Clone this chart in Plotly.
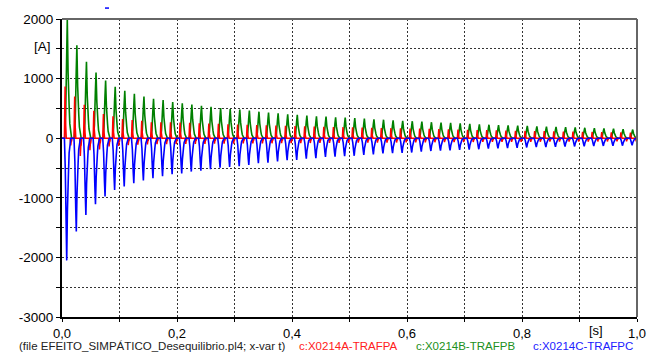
import plotly.graph_objects as go

# ---------------- data ----------------
FREQ = 60.0                 # Hz, one current pulse per cycle
T_FIRST_PEAK = 0.0092       # s, time of first phase-B peak

# peak value of each cycle's pulse [A]
green_peaks = [2000, 1560, 1283, 1100, 967, 861, 794, 744, 700, 661,
               639, 606, 585, 565, 545, 525, 506, 489, 482, 465,
               445, 430, 418, 400, 392, 378, 367, 362, 352, 345,
               338, 328, 318, 310, 300, 290, 285, 278, 268, 262,
               256, 248, 240, 232, 226, 220, 215, 211, 205, 200,
               195, 190, 185, 180, 175, 170, 165, 160, 152, 145]
blue_peaks = [-2050, -1567, -1289, -1106, -978, -867, -811, -756, -711, -672,
              -639, -606, -590, -560, -545, -520, -495, -483, -470, -450,
              -420, -410, -390, -370, -365, -345, -335, -315, -310, -300,
              -295, -280, -270, -255, -250, -245, -240, -225, -215, -210,
              -205, -195, -190, -185, -175, -170, -165, -160, -155, -150,
              -148, -145, -140, -138, -135, -132, -130, -128, -125, -120]
red_peaks = [867, 700, 561, 461, 406, 367, 322, 306, 294, 267,
             267, 267, 262, 258, 252, 246, 240, 235, 230, 225,
             220, 215, 212, 208, 205, 200, 196, 192, 188, 185,
             182, 178, 175, 172, 168, 165, 162, 160, 156, 152,
             150, 146, 142, 138, 135, 132, 128, 125, 122, 120,
             118, 115, 112, 110, 108, 105, 102, 100, 98, 95]
red_dips = [-120, -300, -200, -190, -140, -130, -115, -110, -105, -100,
            -100, -98, -96, -95, -94, -92, -90, -90, -88, -87,
            -86, -85, -84, -83, -82, -81, -80, -79, -78, -77,
            -76, -75, -74, -73, -72, -71, -70, -69, -68, -67,
            -66, -65, -64, -63, -62, -62, -61, -60, -60, -59,
            -58, -58, -57, -56, -56, -55, -55, -54, -54, -53]

# pulse outlines: (time offset from pulse peak [s], fraction of peak)
green_shape = [(-0.0045, 0), (-0.0028, 0.2), (-0.0012, 0.7), (0, 1), (0.0014, 0.55),
               (0.0024, 0.27), (0.0034, 0.24), (0.0044, 0.12), (0.0058, 0.03), (0.0075, 0)]
blue_shape = [(-0.004, 0), (-0.0025, 0.25), (-0.001, 0.75), (0, 1), (0.0012, 0.6),
              (0.0022, 0.3), (0.0032, 0.26), (0.0042, 0.12), (0.0056, 0.03), (0.0072, 0)]
red_pos_shape = [(-0.0012, 0), (-0.0004, 0.75), (0, 1), (0.0005, 0.4), (0.0012, 0.05), (0.002, 0)]
red_neg_shape = [(-0.001, 0), (0, 1), (0.0008, 0.45), (0.0014, 0.4), (0.0024, 0)]

GREEN_OFF, BLUE_OFF, RED_OFF, RED_DIP_OFF = 0.0, -0.001, -0.0038, 0.006

x_tickvals = [0, 0.1, 0.2, 0.3, 0.4, 0.5, 0.6, 0.7, 0.8, 0.9, 1.0]
x_ticktext = ["0,0", "", "0,2", "", "0,4", "", "0,6", "", "0,8", "", "1,0"]
y_tickvals = [-3000, -2500, -2000, -1500, -1000, -500, 0, 500, 1000, 1500, 2000]
y_ticktext = ["-3000", "", "-2000", "", "-1000", "", "0", "", "1000", "", "2000"]


def build(parts):
    t, y = [0.0], [0.0]
    n = len(parts[0][0])
    for k in range(n):
        tc = T_FIRST_PEAK + k / FREQ
        for peaks, off, shape in parts:
            for dt, f in shape:
                t.append(tc + off + dt)
                y.append(f * peaks[k])
    t.append(1.0)
    y.append(0.0)
    return t, y


tg, yg = build([(green_peaks, GREEN_OFF, green_shape)])
tb, yb = build([(blue_peaks, BLUE_OFF, blue_shape)])
tr, yr = build([(red_peaks, RED_OFF, red_pos_shape), (red_dips, RED_DIP_OFF, red_neg_shape)])

FONT = "Liberation Sans, Arial, sans-serif"
fig = go.Figure()
fig.add_trace(go.Scatter(x=tg, y=yg, mode="lines", line=dict(color="#008000", width=1.6), hoverinfo="skip"))
fig.add_trace(go.Scatter(x=tr, y=yr, mode="lines", line=dict(color="#ff0000", width=1.5), hoverinfo="skip"))
fig.add_trace(go.Scatter(x=tb, y=yb, mode="lines", line=dict(color="#0000ff", width=1.6), hoverinfo="skip"))

fig.update_layout(
    width=660, height=353,
    margin=dict(l=62, r=23, t=17, b=36),
    paper_bgcolor="white", plot_bgcolor="white",
    showlegend=False,
    font=dict(family=FONT, size=13, color="black"),
)
fig.update_xaxes(range=[0, 1], tickvals=x_tickvals, ticktext=x_ticktext,
                 showgrid=True, gridcolor="#333", griddash="2px,2px", gridwidth=1,
                 showline=True, linecolor="black", linewidth=2,
                 ticks="outside", ticklen=3, tickcolor="black", tickwidth=1,
                 zeroline=False, tickfont=dict(size=13))
fig.update_yaxes(range=[-3000, 2000], tickvals=y_tickvals, ticktext=y_ticktext,
                 showgrid=True, gridcolor="#333", griddash="2px,2px", gridwidth=1,
                 showline=True, linecolor="black", linewidth=2,
                 ticks="outside", ticklen=4, tickcolor="black", tickwidth=1,
                 zeroline=False, tickfont=dict(size=13.5))

# top and right frame lines (grey)
fig.add_shape(type="line", xref="paper", yref="paper", x0=0, x1=1, y0=1, y1=1,
              line=dict(color="#666", width=2))
fig.add_shape(type="line", xref="paper", yref="paper", x0=1, x1=1, y0=0, y1=1,
              line=dict(color="#666", width=2))


def px_x(px):
    return (px - 62) / 575.0


def px_y(py):
    return (317 - py) / 300.0


# small blue mark above the plot area (as in the reference)
fig.add_shape(type="line", xref="paper", yref="paper", x0=px_x(105), x1=px_x(109),
              y0=px_y(6), y1=px_y(6), line=dict(color="#0000ff", width=1.5))

ann = [
    dict(text="[A]", x=px_x(53), y=px_y(44.5), xanchor="right", font=dict(size=13.5, color="black")),
    dict(text="[s]", x=px_x(596), y=px_y(331), xanchor="center", font=dict(size=13, color="black")),
    dict(text="(file EFEITO_SIMPÁTICO_Desequilibrio.pl4; x-var t)", x=px_x(17), y=px_y(346.5),
         xanchor="left", font=dict(size=11.5, color="#222")),
    dict(text="c:X0214A-TRAFPA", x=px_x(297), y=px_y(346.5), xanchor="left", font=dict(size=11.5, color="#ff2020")),
    dict(text="c:X0214B-TRAFPB", x=px_x(414), y=px_y(346.5), xanchor="left", font=dict(size=11.5, color="#209020")),
    dict(text="c:X0214C-TRAFPC", x=px_x(531), y=px_y(346.5), xanchor="left", font=dict(size=11.5, color="#2020ff")),
]
for a in ann:
    fig.add_annotation(xref="paper", yref="paper", yanchor="middle", showarrow=False,
                       font_family=FONT, **{k: v for k, v in a.items()})

fig.write_html("out.html")
